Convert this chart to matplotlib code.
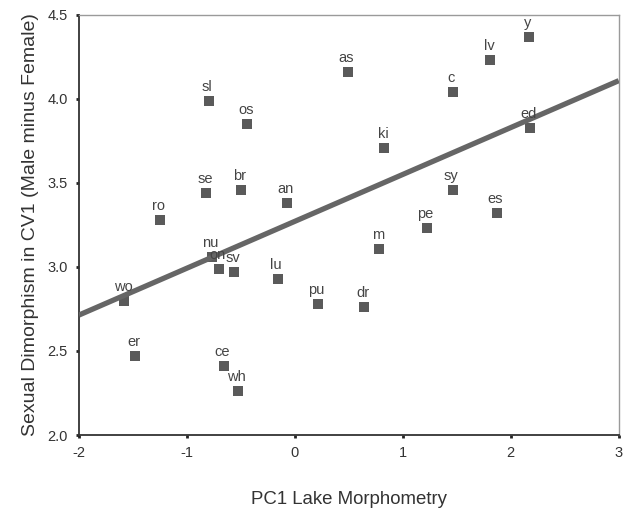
import matplotlib.pyplot as plt
import numpy as np

plt.rcParams['font.family'] = ['Liberation Sans', 'DejaVu Sans']

# Lake codes with PC1 morphometry and sexual dimorphism in CV1
lakes = ['sl', 'os', 'se', 'br', 'an', 'ro', 'as', 'lv', 'y', 'c', 'ed',
         'ki', 'sy', 'es', 'pe', 'm', 'wo', 'nu', 'on', 'sv', 'lu', 'pu',
         'dr', 'er', 'ce', 'wh']
pc1 = [-0.80, -0.44, -0.82, -0.50, -0.07, -1.25, 0.49, 1.81, 2.17, 1.46, 2.18,
       0.83, 1.46, 1.87, 1.22, 0.78, -1.58, -0.77, -0.70, -0.56, -0.16, 0.21,
       0.64, -1.48, -0.66, -0.53]
dimorph = [3.99, 3.85, 3.44, 3.46, 3.38, 3.28, 4.16, 4.23, 4.37, 4.04, 3.83,
           3.71, 3.46, 3.32, 3.23, 3.11, 2.80, 3.06, 2.99, 2.97, 2.93, 2.78,
           2.76, 2.47, 2.41, 2.26]

# regression line
intercept = 2.714 + 2 * 0.279
slope = 0.279

x_ticks = [-2, -1, 0, 1, 2, 3]
y_ticks = [2.0, 2.5, 3.0, 3.5, 4.0, 4.5]

fig = plt.figure(figsize=(6.25, 5.08), dpi=100)
ax = fig.add_axes([0.1264, 0.1437, 0.8636, 0.8268])

xs = np.array([-2, 3])
ax.plot(xs, intercept + slope * xs, color='#666666', linewidth=3.8,
        solid_capstyle='butt', zorder=3)

ax.plot(pc1, dimorph, 's', color='#5a5a5a', markersize=6.5,
        markeredgewidth=0, zorder=2)
for name, x, y in zip(lakes, pc1, dimorph):
    ax.annotate(name, (x, y), xytext=(-1, 5), textcoords='offset points',
                ha='center', va='bottom', fontsize=10.5, color='#444444',
                zorder=4)

ax.set_xlim(-2, 3)
ax.set_ylim(2.0, 4.5)
ax.set_xticks(x_ticks)
ax.set_yticks(y_ticks)
ax.set_xticklabels([str(t) for t in x_ticks])
ax.set_yticklabels([f'{t:.1f}' for t in y_ticks])
ax.tick_params(direction='out', length=2, width=2, color='#222222',
               labelsize=10.5, labelcolor='#333333', pad=6)

for side in ['left', 'bottom']:
    ax.spines[side].set_color('#333333')
    ax.spines[side].set_linewidth(1.3)
for side in ['top', 'right']:
    ax.spines[side].set_color('#9a9a9a')
    ax.spines[side].set_linewidth(1.0)

ax.set_xlabel('PC1 Lake Morphometry', fontsize=13.4, color='#333333',
              labelpad=22)
ax.set_ylabel('Sexual Dimorphism in CV1 (Male minus Female)', fontsize=14,
              color='#333333', labelpad=6)

fig.savefig('out.png', dpi=100)
